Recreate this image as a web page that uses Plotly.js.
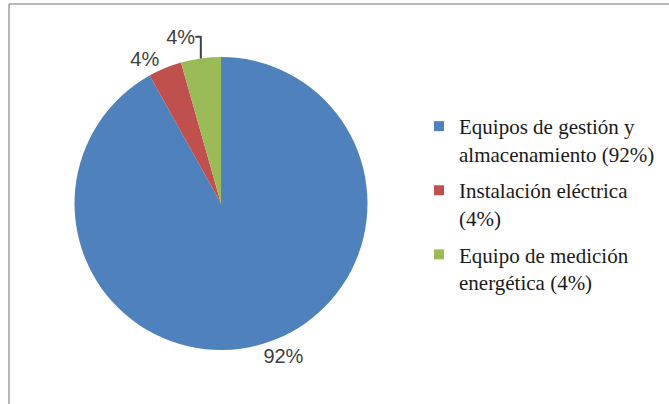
<!DOCTYPE html>
<html>
<head>
<meta charset="utf-8">
<script src="https://cdn.plot.ly/plotly-3.0.1.min.js"></script>
<style>html,body{margin:0;padding:0;background:#fff}#chart{width:669px;height:404px}</style>
</head>
<body>
<div id="chart"></div>
<script>
const categories = ["Equipos de gestión y<br>almacenamiento (92%)", "Instalación eléctrica<br>(4%)", "Equipo de medición<br>energética (4%)"];
const shares = [91.9, 3.7, 4.4];
const sliceLabels = ["92%", "4%", "4%"];
const colors = ["#4F81BD", "#C0504D", "#9BBB59"];

const W = 669, H = 404;
const pie = {
  type: "pie",
  labels: categories,
  values: shares,
  text: sliceLabels,
  textinfo: "text",
  textposition: "outside",
  sort: false,
  direction: "clockwise",
  rotation: 0,
  showlegend: false,
  marker: {colors: colors, line: {width: 0}},
  outsidetextfont: {family: "Liberation Sans, Arial, sans-serif", size: 20, color: "#404040"},
  domain: {x: [74.5 / W, 367.5 / W], y: [1 - 350 / H, 1 - 57 / H]},
  hoverinfo: "none",
  automargin: false
};
// legend entries (one per category), spaced like the original legend
const legendTraces = categories.map((c, i) => ({
  type: "scatter", mode: "markers", x: [null], y: [null],
  name: c, legendgroup: "g" + i, showlegend: true,
  marker: {symbol: "square", size: 10, color: colors[i]},
  hoverinfo: "none"
}));
const layout = {
  width: W, height: H,
  margin: {l: 0, r: 0, t: 0, b: 0},
  paper_bgcolor: "#fff",
  plot_bgcolor: "rgba(0,0,0,0)",
  xaxis: {visible: false}, yaxis: {visible: false},
  showlegend: true,
  legend: {
    x: 419 / W, xanchor: "left",
    y: 1 - 106 / H, yanchor: "top",
    valign: "top",
    traceorder: "grouped",
    tracegroupgap: 6.5,
    font: {family: "Liberation Serif, Times New Roman, serif", size: 21, color: "#1a1a1a"},
    bgcolor: "rgba(0,0,0,0)"
  },
  shapes: [
    {type: "line", xref: "paper", yref: "paper", x0: 9 / W, x1: 9 / W, y0: 0, y1: 1 - 4 / H, line: {color: "#a0a0a0", width: 1.5}},
    {type: "line", xref: "paper", yref: "paper", x0: 9 / W, x1: 1, y0: 1 - 4 / H, y1: 1 - 4 / H, line: {color: "#a0a0a0", width: 1.5}}
  ]
};
Plotly.newPlot("chart", [pie].concat(legendTraces), layout, {displayModeBar: false, staticPlot: true});
</script>
</body>
</html>
